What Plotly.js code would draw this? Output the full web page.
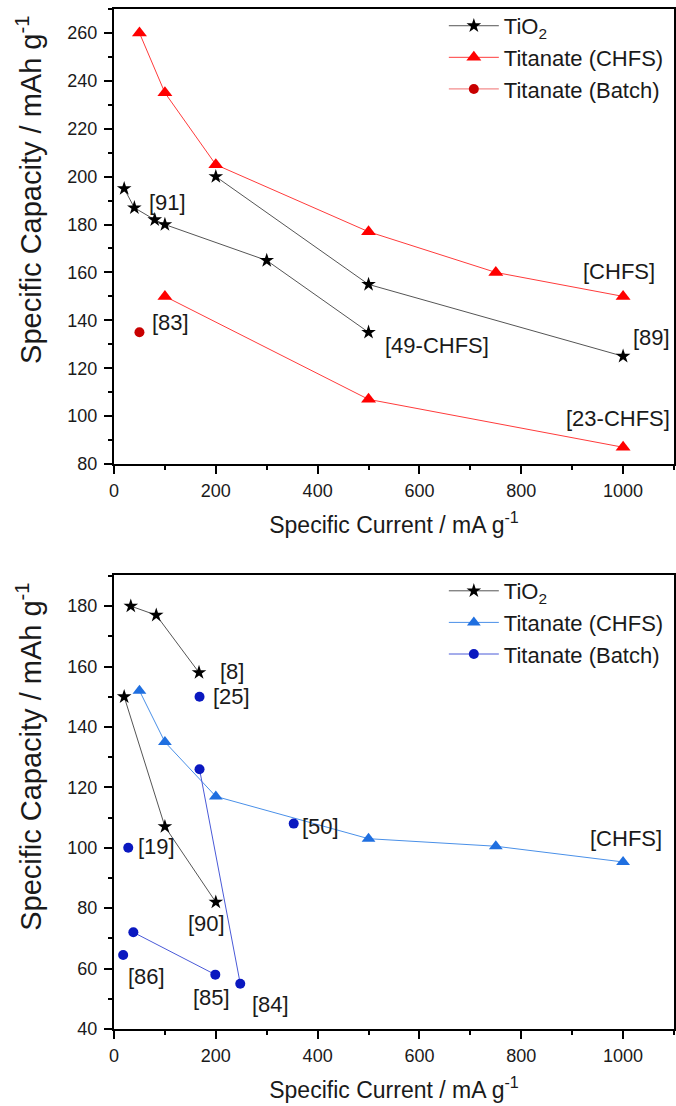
<!DOCTYPE html>
<html>
<head>
<meta charset="utf-8">
<script src="https://cdn.plot.ly/plotly-3.0.1.min.js"></script>
<style>html,body{margin:0;padding:0;background:#fff;}#chart{width:676px;height:1106px;}</style>
</head>
<body>
<div id="chart"></div>
<script>
// ---------- Top panel data ----------
const topTiO2_91_x = [20, 40, 80, 100, 300, 500];
const topTiO2_91_y = [195, 187, 182, 180, 165, 135];
const topTiO2_89_x = [200, 500, 1000];
const topTiO2_89_y = [200, 155, 125];
const topCHFS_a_x = [50, 100, 200, 500, 750, 1000];
const topCHFS_a_y = [260, 235, 205, 177, 160, 150];
const topCHFS_b_x = [100, 500, 1000];
const topCHFS_b_y = [150, 107, 87];
const topBatch_83_x = [50];
const topBatch_83_y = [135];
const topLabels = ['[91]', '[83]', '[49-CHFS]', '[89]', '[23-CHFS]', '[CHFS]'];
const topLabelX = [106, 110, 634, 1055, 990, 992];
const topLabelY = [189.4, 139, 129.7, 133, 99.2, 160.2];

// ---------- Bottom panel data ----------
const botTiO2_8_x = [33, 83, 167];
const botTiO2_8_y = [180, 177, 158];
const botTiO2_90_x = [20, 100, 200];
const botTiO2_90_y = [150, 107, 82];
const botCHFS_x = [50, 100, 200, 500, 750, 1000];
const botCHFS_y = [152, 135, 117, 103, 100.5, 95.3];
const botBatch_25_x = [168];
const botBatch_25_y = [150];
const botBatch_84_x = [168, 248];
const botBatch_84_y = [126, 55];
const botBatch_50_x = [353];
const botBatch_50_y = [108];
const botBatch_19_x = [28];
const botBatch_19_y = [100];
const botBatch_85_x = [38, 199];
const botBatch_85_y = [72, 58];
const botBatch_86_x = [18];
const botBatch_86_y = [64.5];
const botLabels = ['[8]', '[25]', '[50]', '[19]', '[90]', '[86]', '[85]', '[84]', '[CHFS]'];
const botLabelX = [231, 231, 406, 84, 182, 64, 191, 307, 1006];
const botLabelY = [158.2, 150, 107, 100.3, 75, 57.3, 50.4, 48, 103.2];

const legendNames = ['TiO<sub>2</sub>', 'Titanate (CHFS)', 'Titanate (Batch)'];
const xTitle = 'Specific Current / mA g<sup>-1</sup>';
const yTitle = 'Specific Capacity / mAh g<sup>-1</sup>';

const FONT = '"Liberation Sans", Arial, sans-serif';
const TXT = '#1a1a1a';

function tr(x, y, name, lc, mc, sym, size, xa, ya, show, lg, group) {
  return {
    x: x, y: y, type: 'scatter', mode: 'lines+markers', name: name,
    xaxis: xa, yaxis: ya, legend: lg, legendgroup: group + lg, showlegend: show,
    line: {color: lc, width: 1},
    marker: {symbol: sym, size: size, color: mc, line: {width: 0}}
  };
}

const traces = [
  tr(topTiO2_91_x, topTiO2_91_y, legendNames[0], '#555555', '#000000', 'star', 11, 'x', 'y', true, 'legend', 'a'),
  tr(topTiO2_89_x, topTiO2_89_y, legendNames[0], '#555555', '#000000', 'star', 11, 'x', 'y', false, 'legend', 'a'),
  tr(topCHFS_a_x, topCHFS_a_y, legendNames[1], '#ff3b3b', '#ff0000', 'triangle-up', 13, 'x', 'y', true, 'legend', 'b'),
  tr(topCHFS_b_x, topCHFS_b_y, legendNames[1], '#ff3b3b', '#ff0000', 'triangle-up', 13, 'x', 'y', false, 'legend', 'b'),
  tr(topBatch_83_x, topBatch_83_y, legendNames[2], '#f07070', '#c80000', 'circle', 10, 'x', 'y', true, 'legend', 'c'),

  tr(botTiO2_8_x, botTiO2_8_y, legendNames[0], '#555555', '#000000', 'star', 11, 'x2', 'y2', true, 'legend2', 'a'),
  tr(botTiO2_90_x, botTiO2_90_y, legendNames[0], '#555555', '#000000', 'star', 11, 'x2', 'y2', false, 'legend2', 'a'),
  tr(botCHFS_x, botCHFS_y, legendNames[1], '#4a90e8', '#1f6fe0', 'triangle-up', 12, 'x2', 'y2', true, 'legend2', 'b'),
  tr(botBatch_25_x, botBatch_25_y, legendNames[2], '#4a5ad8', '#0a18c0', 'circle', 10, 'x2', 'y2', true, 'legend2', 'c'),
  tr(botBatch_84_x, botBatch_84_y, legendNames[2], '#4a5ad8', '#0a18c0', 'circle', 10, 'x2', 'y2', false, 'legend2', 'c'),
  tr(botBatch_50_x, botBatch_50_y, legendNames[2], '#4a5ad8', '#0a18c0', 'circle', 10, 'x2', 'y2', false, 'legend2', 'c'),
  tr(botBatch_19_x, botBatch_19_y, legendNames[2], '#4a5ad8', '#0a18c0', 'circle', 10, 'x2', 'y2', false, 'legend2', 'c'),
  tr(botBatch_85_x, botBatch_85_y, legendNames[2], '#4a5ad8', '#0a18c0', 'circle', 10, 'x2', 'y2', false, 'legend2', 'c'),
  tr(botBatch_86_x, botBatch_86_y, legendNames[2], '#4a5ad8', '#0a18c0', 'circle', 10, 'x2', 'y2', false, 'legend2', 'c')
];

function xAxis(anchor) {
  return {
    anchor: anchor, range: [0, 1100], dtick: 200, tick0: 0,
    ticks: 'outside', ticklen: 8, tickwidth: 2, tickcolor: '#000',
    minor: {dtick: 100, ticks: 'outside', ticklen: 4, tickwidth: 2, tickcolor: '#000'},
    showline: true, linecolor: '#000', linewidth: 2, mirror: true,
    showgrid: false, zeroline: false,
    tickfont: {family: FONT, size: 18, color: TXT},
    ticklabelstandoff: 1,
    title: {text: xTitle, font: {family: FONT, size: 23, color: TXT}, standoff: 17}
  };
}
function yAxis(anchor, domain, range) {
  return {
    anchor: anchor, domain: domain, range: range, dtick: 20, tick0: 0,
    ticks: 'outside', ticklen: 8, tickwidth: 2, tickcolor: '#000',
    minor: {dtick: 10, ticks: 'outside', ticklen: 4, tickwidth: 2, tickcolor: '#000'},
    showline: true, linecolor: '#000', linewidth: 2, mirror: true,
    showgrid: false, zeroline: false,
    tickfont: {family: FONT, size: 18, color: TXT},
    ticklabelstandoff: 3
  };
}

const annotations = [];
topLabels.forEach((t, i) => annotations.push({
  text: t, x: topLabelX[i], y: topLabelY[i], xref: 'x', yref: 'y', showarrow: false,
  xanchor: 'center', yanchor: 'middle', font: {family: FONT, size: 22, color: TXT}
}));
botLabels.forEach((t, i) => annotations.push({
  text: t, x: botLabelX[i], y: botLabelY[i], xref: 'x2', yref: 'y2', showarrow: false,
  xanchor: 'center', yanchor: 'middle', font: {family: FONT, size: 22, color: TXT}
}));
[0.8225, 0.2667].forEach(yy => annotations.push({
  text: yTitle, textangle: -90, x: -0.152, y: yy, xref: 'paper', yref: 'paper',
  showarrow: false, xanchor: 'center', yanchor: 'middle',
  font: {family: FONT, size: 29, color: TXT}
}));

const legendCommon = {
  xanchor: 'left', yanchor: 'top', bgcolor: 'rgba(0,0,0,0)', borderwidth: 0,
  font: {family: FONT, size: 22, color: TXT}, tracegroupgap: 0, itemwidth: 50
};

const layout = {
  width: 676, height: 1106,
  margin: {l: 114, r: 2, t: 9, b: 77},
  paper_bgcolor: '#fff', plot_bgcolor: '#fff',
  showlegend: true,
  xaxis: xAxis('y'),
  yaxis: yAxis('x', [0.5539, 1], [80, 270]),
  xaxis2: xAxis('y2'),
  yaxis2: yAxis('x2', [0, 0.4451], [40, 190.3]),
  legend: Object.assign({x: 0.589, y: 1.004}, legendCommon),
  legend2: Object.assign({x: 0.589, y: 0.450}, legendCommon),
  annotations: annotations
};

Plotly.newPlot('chart', traces, layout, {displayModeBar: false, staticPlot: true});
</script>
</body>
</html>
